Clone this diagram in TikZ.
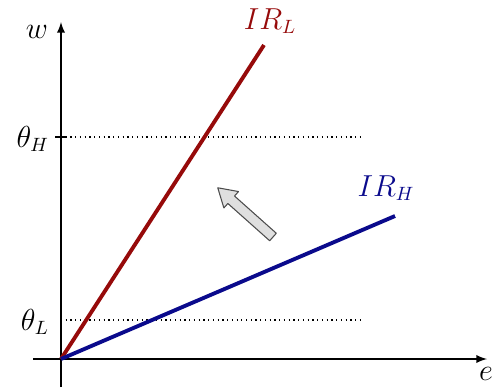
\documentclass[tikz,border=0pt]{standalone}
\definecolor{irlred}{RGB}{150,10,10}
\definecolor{irhblue}{RGB}{10,10,140}
\begin{document}
\begin{tikzpicture}[x=0.02cm, y=0.02cm, line join=round, >=latex, font=\fontsize{16}{18}\selectfont]
	\useasboundingbox (-61,-28) rectangle (436,359);
	% axes
	\draw[->,line width=1.1pt] (-28,0) -- (426,0);
	\draw[->,line width=1.1pt] (0,-28) -- (0,337);
	\node (w) at (-24,327) {$w$};
	\node[anchor=east,inner sep=1pt] (e) at (434,-15) {$e$};
	% thresholds
	\draw[dotted,line width=0.7pt] (0,222) -- (302,222);
	\draw[dotted,line width=0.7pt] (0,39) -- (302,39);
	\draw[line width=1.1pt] (-6,222) -- (6,222);
	\node[anchor=east] (thH) at (-6,220) {$\theta_H$};
	\node[anchor=east] (thL) at (-6,37) {$\theta_L$};
	% rays
	\draw[irlred,line width=2.2pt] (0,0) -- (203,314);
	\draw[irhblue,line width=2.2pt] (0,0) -- (334,143);
	\node[irlred] (IRL) at (209,338) {$IR_L$};
	\node[irhblue] (IRH) at (325,171) {$IR_H$};
	% shift arrow
	\draw[black!70, fill=gray!25, line width=0.6pt, shift={(212,122)}, rotate=138.3]
		(0,-5) -- (56,-5) -- (56,-11) -- (74,0) -- (56,11) -- (56,5) -- (0,5) -- cycle;
\end{tikzpicture}
\end{document}
